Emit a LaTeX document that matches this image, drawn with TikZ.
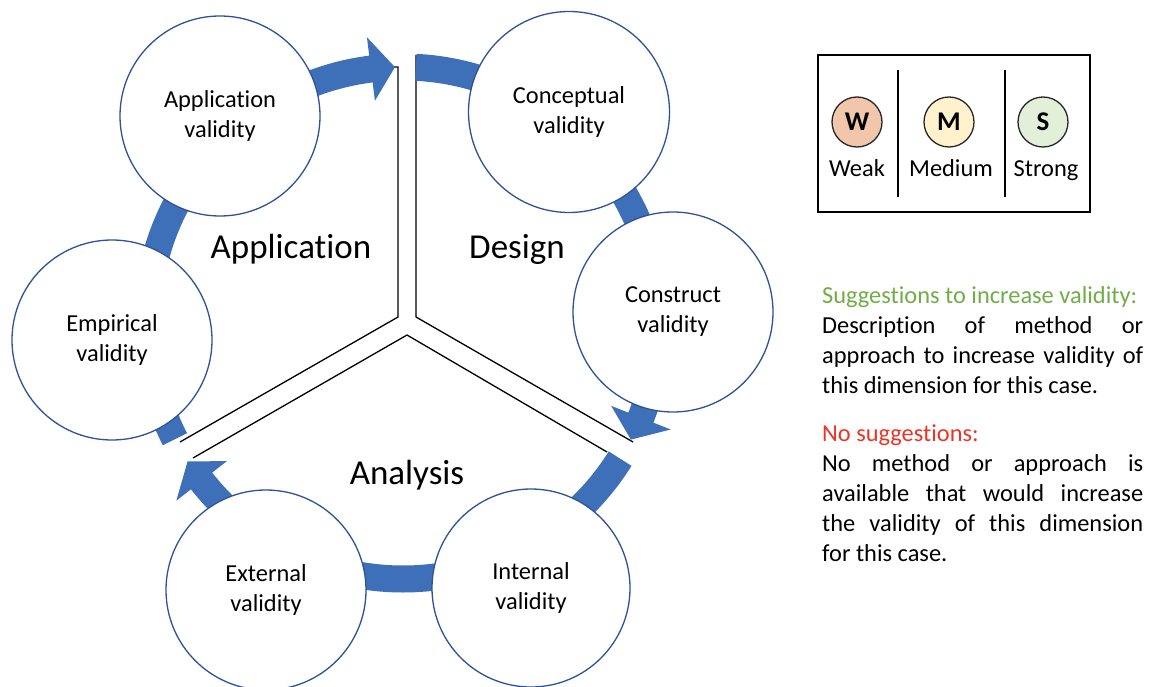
\documentclass[tikz,border=0pt]{standalone}
\usepackage{fontspec}
\setmainfont[Ligatures={NoCommon}]{Carlito}
\usetikzlibrary{calc}
\definecolor{ringblue}{RGB}{62,112,185}
\definecolor{edgeblue}{RGB}{47,82,150}
\definecolor{weakfill}{RGB}{241,198,170}
\definecolor{medfill}{RGB}{255,242,204}
\definecolor{strongfill}{RGB}{226,239,217}
\definecolor{suggreen}{RGB}{112,173,71}
\definecolor{nored}{RGB}{236,52,38}
\begin{document}
\begin{tikzpicture}[x=1pt,y=-1pt,
  vcirc/.style={circle,draw=edgeblue,line width=1.3pt,fill=white,inner sep=0pt,align=center,font=\fontsize{24.4}{30}\selectfont,execute at begin node={\rule{0pt}{24pt}}},
  band/.style={draw=ringblue,line width=27pt},
  head/.style={fill=ringblue},
  divider/.style={draw=black,line width=1.3pt,line join=miter},
  biglabel/.style={font=\fontsize{35}{42}\selectfont,anchor=base,inner sep=0pt},
  legcirc/.style={circle,draw=black!85,line width=1.3pt,minimum size=50pt,inner sep=0pt,font=\fontsize{27}{30}\selectfont\bfseries},
  legtext/.style={font=\fontsize{24.4}{30}\selectfont,anchor=base,inner sep=0pt},
  bodytext/.style={font=\fontsize{24.4}{30}\selectfont,anchor=base west,inner sep=0pt},
]
\clip (0,0) rectangle (1155,687);
\coordinate (O) at (403,323);

% dividers
\draw[divider] (393,67) -- (398,67) -- (398,317) -- (180,442);
\draw[divider] (416,55) -- (416,317) -- (633,442);
\draw[divider] (193,458) -- (407,335) -- (607,452);

% ring bands
\draw[band] (O) ++(230:256) arc[start angle=230,end angle=263.2,radius=256];
\draw[band] (O) ++(272.9:256) arc[start angle=272.9,end angle=300,radius=256];
\draw[band] (O) ++(305:256) arc[start angle=305,end angle=355,radius=256];
\draw[band] (O) ++(0:256) arc[start angle=0,end angle=22,radius=256];
\draw[band] (O) ++(32:256) arc[start angle=32,end angle=60,radius=256];
\draw[band] (O) ++(70:256) arc[start angle=70,end angle=110,radius=256];
\draw[band] (O) ++(120:256) arc[start angle=120,end angle=142.2,radius=256];
\draw[band] (O) ++(153:256) arc[start angle=153,end angle=175,radius=256];
\draw[band] (O) ++(190:256) arc[start angle=190,end angle=240,radius=256];

% arrowheads
\fill[head] ($(O)+(268.2:256)$) -- ($(O)+(262.8:288)$) -- ($(O)+(262.8:224)$) -- cycle;
\fill[head] ($(O)+(27.1:256)$) -- ($(O)+(21.7:288)$) -- ($(O)+(21.7:224)$) -- cycle;
\fill[head] ($(O)+(147.3:256)$) -- ($(O)+(141.9:288)$) -- ($(O)+(141.9:224)$) -- cycle;

% validity circles
\node[vcirc,minimum size=200pt] (appl) at (220,116) {Application\\validity};
\node[vcirc,minimum size=201pt] (conc) at (569,112) {Conceptual\\validity};
\node[vcirc,minimum size=200pt] (cons) at (673,312) {Construct\\validity};
\node[vcirc,minimum size=200pt] (emp) at (112,340) {Empirical\\validity};
\node[vcirc,minimum size=200pt] (ext) at (266,590) {External\\validity};
\node[vcirc,minimum size=198pt] (int) at (531,588) {Internal\\validity};

% phase labels
\node[biglabel] (lapp) at (291,258) {Application};
\node[biglabel] (ldes) at (517,258) {Design};
\node[biglabel] (lana) at (407,484) {Analysis};

% legend
\draw[line width=1.3pt] (818,55) rectangle (1090,212);
\draw[line width=1.3pt] (898,70) -- (898,197);
\draw[line width=1.3pt] (1005,70) -- (1005,197);
\node[legcirc,fill=weakfill] (w) at (857,122) {W};
\node[legcirc,fill=medfill] (m) at (949,122) {M};
\node[legcirc,fill=strongfill] (s) at (1043,122) {S};
\node[legtext] (tw) at (857,176) {Weak};
\node[legtext] (tm) at (951,176) {Medium};
\node[legtext] (ts) at (1046,176) {Strong};

% explanation text
\node[bodytext,text=suggreen] (t1) at (822,303) {Suggestions to increase validity:};
\node[bodytext] (t2) at (822,333) {\makebox[321pt][s]{Description of method or}};
\node[bodytext] (t3) at (822,363) {\makebox[321pt][s]{approach to increase validity of}};
\node[bodytext] (t4) at (822,393) {this dimension for this case.};
\node[bodytext,text=nored] (t5) at (822,441) {No suggestions:};
\node[bodytext] (t6) at (822,471) {\makebox[321pt][s]{No method or approach is}};
\node[bodytext] (t7) at (822,501) {\makebox[321pt][s]{available that would increase}};
\node[bodytext] (t8) at (822,531) {\makebox[321pt][s]{the validity of this dimension}};
\node[bodytext] (t9) at (822,561) {for this case.};
\end{tikzpicture}
\end{document}
